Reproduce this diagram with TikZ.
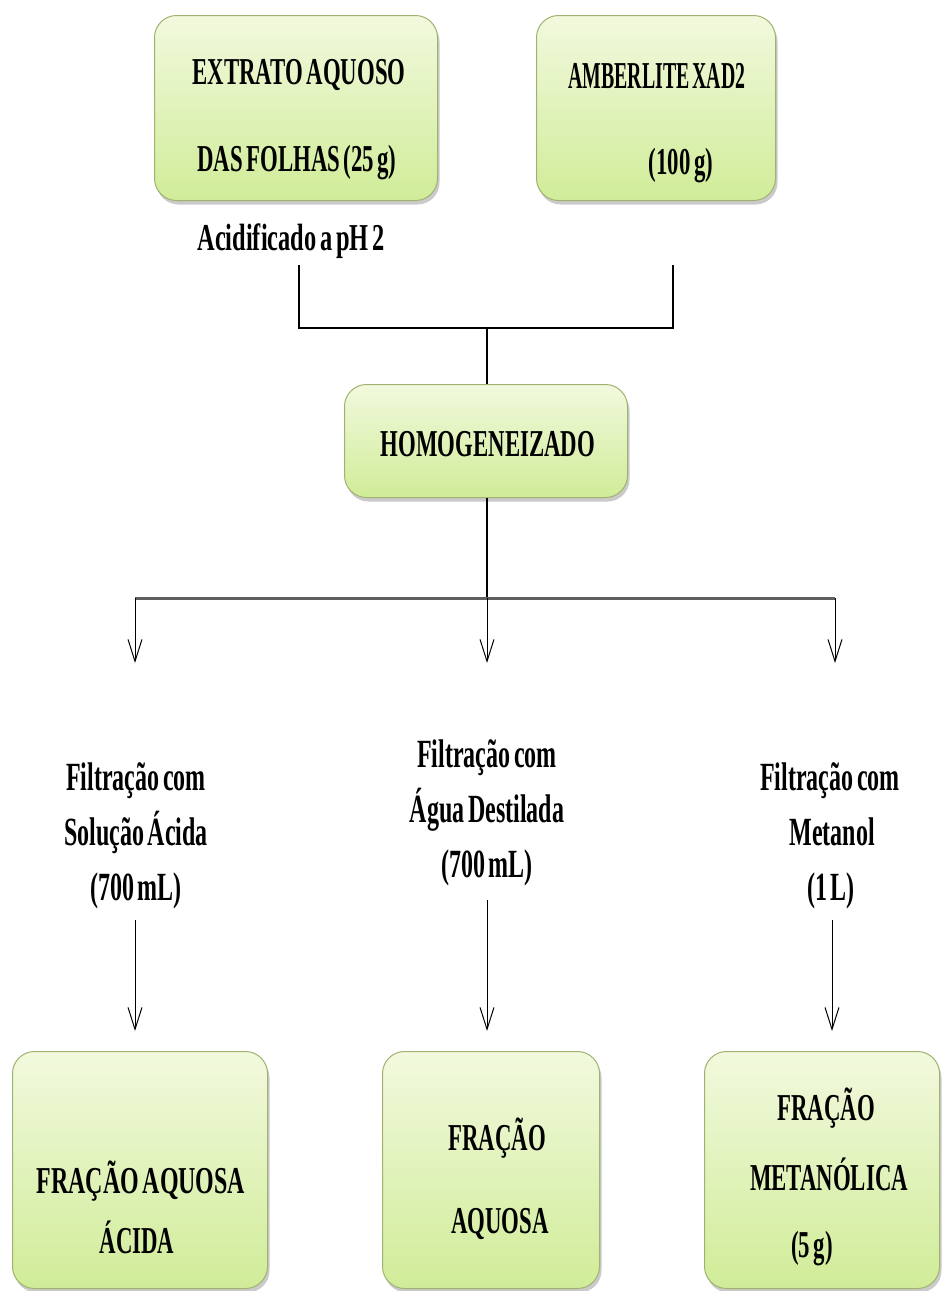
\documentclass[tikz,border=0pt]{standalone}
\usepackage{fontspec}
\newfontface\cond[FakeStretch=0.6,WordSpace=0.6]{Liberation Serif Bold}
\usetikzlibrary{shadows,arrows.meta}
\definecolor{boxtop}{RGB}{242,249,222}
\definecolor{boxbot}{RGB}{208,236,152}
\definecolor{boxedge}{RGB}{160,178,112}
\definecolor{barcol}{RGB}{95,95,95}
\tikzset{
  greenbox/.style={draw=boxedge, line width=1pt, rounded corners=22pt, top color=boxtop, bottom color=boxbot,
    drop shadow={shadow xshift=2pt, shadow yshift=-4pt, opacity=0.35, fill=black!60}, inner sep=0pt},
  txt/.style={anchor=base, inner sep=0pt, font=\cond\fontsize{38pt}{38pt}\selectfont},
  lbl/.style={anchor=base, inner sep=0pt, font=\cond\fontsize{40pt}{40pt}\selectfont},
  conn/.style={line width=1.6pt, black},
  arr/.style={line width=1pt, black, -{Straight Barb[length=22pt,width=14pt,line width=1pt]}}
}
\begin{document}
\begin{tikzpicture}[x=1pt,y=-1pt]
\useasboundingbox (0,0) rectangle (942,1291);
% boxes
\node[greenbox, minimum width=283pt, minimum height=185pt] (b1) at (296,108) {};
\node[greenbox, minimum width=239pt, minimum height=185pt] (b2) at (656,108) {};
\node[greenbox, minimum width=283pt, minimum height=113pt] (homo) at (486,441) {};
\node[greenbox, minimum width=255pt, minimum height=237pt] (fr1) at (140,1170) {};
\node[greenbox, minimum width=217pt, minimum height=237pt] (fr2) at (491,1170) {};
\node[greenbox, minimum width=235pt, minimum height=237pt] (fr3) at (822,1170) {};
% box texts
\node[txt] (b1a) at (299,84) {EXTRATO AQUOSO};
\node[txt] (b1b) at (297,171) {DAS FOLHAS (25 g)};
\node[txt] (b2a) at (657,88) {\scalebox{0.87}[1]{AMBERLITE XAD2}};
\node[txt] (b2b) at (681,174) {(100 g)};
\node[txt] (acid) at (291,250) {\scalebox{1.07}[1]{Acidificado a pH 2}};
\node[txt] (homot) at (488,456) {HOMOGENEIZADO};
\node[txt] (fr1a) at (141,1193) {\scalebox{1.05}[1]{FRAÇÃO AQUOSA}};
\node[txt] (fr1b) at (137,1253) {ÁCIDA};
\node[txt] (fr2a) at (497,1150) {FRAÇÃO};
\node[txt] (fr2b) at (500,1233) {AQUOSA};
\node[txt] (fr3a) at (826,1120) {FRAÇÃO};
\node[txt] (fr3b) at (829,1190) {METANÓLICA};
\node[txt] (fr3c) at (812,1257) {(5 g)};
% filtration labels
\node[lbl] (l1a) at (136,790) {Filtração com};
\node[lbl] (l1b) at (136,845) {Solução Ácida};
\node[lbl] (l1c) at (136,900) {(700 mL)};
\node[lbl] (l2a) at (487,767) {Filtração com};
\node[lbl] (l2b) at (487,822) {Água Destilada};
\node[lbl] (l2c) at (487,877) {(700 mL)};
\node[lbl] (l3a) at (830,790) {Filtração com};
\node[lbl] (l3b) at (832,845) {Metanol};
\node[lbl] (l3c) at (831,900) {(1 L)};
% connectors top
\coordinate (a1) at (299,265);
\coordinate (a2) at (673,265);
\coordinate (m) at (487,328);
\draw[conn] (a1) |- (m) -| (a2);
\draw[conn] (m) -- (m |- homo.north);
\coordinate (s) at (487,598);
\draw[conn] (s |- homo.south) -- (s);
\coordinate (h1) at (135,598);
\coordinate (h3) at (835,598);
\draw[line width=3pt, barcol] (h1) -- (h3);
\draw[arr] (h1) -- (135,663);
\draw[arr] (s) -- (487,663);
\draw[arr] (h3) -- (835,663);
% lower arrows
\coordinate (d1) at (135,920);
\coordinate (d2) at (487,900);
\coordinate (d3) at (832,920);
\draw[arr] (d1) -- ([yshift=20pt]d1 |- fr1.north);
\draw[arr] (d2) -- ([yshift=20pt]d2 |- fr2.north);
\draw[arr] (d3) -- ([yshift=20pt]d3 |- fr3.north);
\end{tikzpicture}
\end{document}
